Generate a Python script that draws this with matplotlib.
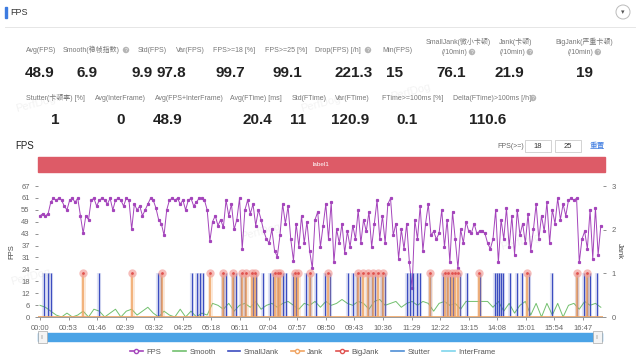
import matplotlib
matplotlib.use("Agg")
import matplotlib.pyplot as plt
from matplotlib.patches import Rectangle, Ellipse
from matplotlib.lines import Line2D
import numpy as np

plt.rcParams['font.family'] = ['Liberation Sans', 'Noto Sans CJK SC', 'DejaVu Sans']

# ---- data ----
# summary numbers: (label, value)
row1_labels = ["Avg(FPS)", "Smooth(稳帧指数)", "Std(FPS)", "Var(FPS)", "FPS>=18 [%]", "FPS>=25 [%]",
               "Drop(FPS) [/h]", "Min(FPS)", "SmallJank(微小卡顿)\n(/10min)", "Jank(卡顿)\n(/10min)",
               "BigJank(严重卡顿)\n(/10min)"]
row1_values = ["48.9", "6.9", "9.9", "97.8", "99.7", "99.1", "221.3", "15", "76.1", "21.9", "19"]
row2_labels = ["Stutter(卡顿率) [%]", "Avg(InterFrame)", "Avg(FPS+InterFrame)", "Avg(FTime) [ms]",
               "Std(FTime)", "Var(FTime)", "FTime>=100ms [%]", "Delta(FTime)>100ms [/h]"]
row2_values = ["1", "0", "48.9", "20.4", "11", "120.9", "0.1", "110.6"]

# FPS sampled every 5 s
fps_step = 5
fps = [
    52, 53, 52, 53, 59, 61, 60, 61, 60, 57,
    55, 60, 61, 59, 61, 52, 43, 52, 50, 60,
    61, 57, 60, 61, 60, 58, 61, 55, 60, 61,
    60, 57, 61, 60, 45, 58, 55, 57, 52, 55,
    58, 61, 60, 56, 50, 48, 42, 55, 60, 61,
    60, 61, 58, 60, 55, 60, 61, 57, 59, 61,
    61, 60, 55, 39, 49, 52, 47, 50, 46, 60,
    52, 58, 45, 50, 61, 35, 55, 60, 53, 58,
    47, 55, 50, 44, 40, 38, 45, 34, 31, 42,
    58, 48, 57, 40, 29, 48, 36, 52, 38, 49,
    34, 25, 50, 54, 36, 47, 58, 40, 59, 28,
    45, 38, 48, 33, 44, 36, 47, 40, 55, 38,
    50, 44, 54, 36, 48, 60, 40, 52, 38, 58,
    61, 42, 48, 30, 45, 35, 48, 28, 15, 50,
    40, 57, 34, 48, 58, 42, 44, 40, 43, 55,
    36, 50, 28, 54, 40, 25, 45, 38, 49, 44,
    43, 48, 43, 44, 44, 43, 38, 35, 40, 55,
    28, 50, 40, 56, 36, 52, 32, 55, 42, 48,
    38, 53, 34, 45, 58, 40, 52, 44, 59, 38,
    55, 48, 61, 50, 58, 52, 60, 61, 60, 61,
    28, 40, 44, 35, 55, 30, 56, 32, 47,
]

# Smooth sampled every 10 s
smooth_step = 10
smooth = [
    6, 5, 3, 1, 0, 2, 0, 1, 3, 0,
    4, 3, 0, 2, 4, 0, 3, 4, 1, 3,
    5, 2, 0, 3, 1, 0, 4, 0, 3, 0,
    2, 1, 7, 6, 4, 7, 3, 6, 7, 5,
    8, 4, 6, 7, 5, 7, 8, 6, 4, 7,
    6, 8, 5, 8, 6, 7, 9, 7, 6, 8,
    7, 4, 8, 9, 6, 7, 8, 5, 7, 8,
    6, 8, 7, 3, 7, 8, 6, 7, 4, 8,
    8, 8, 8, 8, 5, 8, 3, 7, 2, 6,
    8, 1, 7, 0, 7, 1, 7, 0, 6, 7,
    4, 8, 6, 7, 5,
]

# event times in seconds
small_jank_t = [7, 15, 20, 109, 219, 224, 282, 291, 297, 302, 339, 345, 358, 364, 373, 380, 395,
                401, 414, 427, 432, 441, 451, 456, 469, 475, 493, 501, 512, 529, 538, 571, 580,
                588, 593, 608, 616, 621, 634, 640, 681, 686, 692, 699, 705, 723, 747, 755, 760,
                766, 779, 792, 816, 844, 848, 851, 855, 859, 872, 885, 894, 907, 950, 996, 1009,
                1014, 1020, 1033]
big_jank_t = [80, 171, 226, 315, 339, 358, 375, 382, 393, 399, 436, 441, 445, 473, 478, 501, 534,
              590, 599, 608, 618, 627, 636, 723, 751, 757, 764, 770, 775, 814, 903, 996, 1014]

tick_labels = ["00:00", "00:53", "01:46", "02:39", "03:32", "04:25", "05:18", "06:11", "07:04",
               "07:57", "08:50", "09:43", "10:36", "11:29", "12:22", "13:15", "14:08", "15:01",
               "15:54", "16:47"]
fps_ticks = ["0", "6", "12", "18", "24", "31", "37", "43", "49", "55", "61", "67"]
legend_names = ["FPS", "Smooth", "SmallJank", "Jank", "BigJank", "Stutter", "InterFrame"]

c_fps = "#a444bb"
c_smooth = "#72c06e"
c_small = "#3c4dc0"
c_jank = "#f0a462"
c_big = "#e0524f"
c_stutter = "#4f8fd6"
c_inter = "#7fd6ec"

W, H = 640, 361
fig = plt.figure(figsize=(6.4, 3.61), dpi=100)


def fx(x):
    return x / W


def fy(y):
    return 1 - y / H


def qmark(x, y):
    fig.text(fx(x), fy(y), "?", fontsize=3.5, color="white", ha="center", va="center",
             bbox=dict(boxstyle="circle,pad=0.15", fc="#b5b5b5", ec="none"))


# ---- header ----
fig.add_artist(Rectangle((fx(5), fy(18)), 1.5 / W, 11 / H, color="#3d7be0"))
fig.text(fx(10), fy(12.5), "FPS", fontsize=6.5, va="center", color="#333")
fig.add_artist(Ellipse((fx(623), fy(12)), 14 / W, 14 / H, fc="white", ec="#bbbbbb", lw=0.7))
fig.text(fx(623), fy(12), "▾", fontsize=5, ha="center", va="center", color="#555",
         family="DejaVu Sans")
fig.add_artist(Line2D([fx(5), fx(635)], [fy(27), fy(27)], color="#e6e6e6", lw=0.7))

# ---- summary stats ----
row1_lx = [26, 63, 138, 176, 213, 265, 315, 382, 419, 495, 550]
row1_vx = [39.5, 87.5, 142, 171, 230.5, 287.5, 353.5, 394.5, 451.5, 509.5, 584.5]
for lab, val, lx, vx in zip(row1_labels, row1_values, row1_lx, row1_vx):
    if "\n" in lab:
        top, bot = lab.split("\n")
        mid = lx + len(top) * 2.6
        fig.text(fx(mid), fy(41.5), top, fontsize=5, color="#777", ha="center", va="center")
        fig.text(fx(mid - 3), fy(52), bot, fontsize=5, color="#777", ha="center", va="center")
        qmark(mid + 14, 52)
    else:
        fig.text(fx(lx), fy(50), lab, fontsize=5, color="#777", va="center")
    fig.text(fx(vx), fy(73), val, fontsize=11, color="#222", ha="center", va="center",
             fontweight="bold")
qmark(126, 50)
qmark(368, 50)

row2_lx = [26, 95, 155, 230, 292, 335, 382, 453]
row2_vx = [55, 121, 168, 257, 298, 350, 407, 488]
for lab, val, lx, vx in zip(row2_labels, row2_values, row2_lx, row2_vx):
    fig.text(fx(lx), fy(98), lab, fontsize=5, color="#777", va="center")
    fig.text(fx(vx), fy(120), val, fontsize=11, color="#222", ha="center", va="center",
             fontweight="bold")
qmark(533, 98)

# faint watermarks
for wx, wy in [(15, 112), (300, 112), (390, 100), (10, 285), (240, 240), (500, 250)]:
    fig.text(fx(wx), fy(wy), "PerfDog", fontsize=8, color="#999", alpha=0.12, rotation=15)

# ---- chart header ----
fig.text(fx(15), fy(146), "FPS", fontsize=7, va="center", color="#222")
fig.text(fx(497), fy(146), "FPS(>=)", fontsize=5, va="center", color="#666")
for bx, txt in [(525, "18"), (555, "25")]:
    fig.add_artist(Rectangle((fx(bx), fy(152)), 26 / W, 12 / H, fc="white", ec="#cccccc", lw=0.6))
    fig.text(fx(bx + 13), fy(146), txt, fontsize=5.5, ha="center", va="center", color="#333")
fig.text(fx(590), fy(146), "重置", fontsize=5.5, va="center", color="#3d7be0")

fig.add_artist(Rectangle((fx(38), fy(172)), (605 - 38) / W, 15 / H, color="#dd5b67"))
fig.text(fx(321), fy(164.5), "label1", fontsize=4.5, ha="center", va="center", color="white")

# ---- main plot ----
ax = fig.add_axes([fx(38), fy(317), (603 - 38) / W, (317 - 186) / H])
ax2 = ax.twinx()

fps_t = np.arange(len(fps)) * fps_step
smooth_t = np.arange(len(smooth)) * smooth_step

ax.plot(fps_t, fps, color=c_fps, lw=0.7, marker="s", ms=1.3, zorder=5)
ax.plot(smooth_t, smooth, color=c_smooth, lw=0.7, zorder=3)

ymax = 67.3
ax.set_ylim(0, ymax)
ax.set_yticks(np.linspace(0, ymax, 12))
ax.set_yticklabels(fps_ticks)
ax.set_ylabel("FPS", fontsize=5.5, color="#444", labelpad=4)

xmin, xmax = -3.7, 1044
ax.set_xlim(xmin, xmax)
ax.set_xticks(np.arange(len(tick_labels)) * 53)
ax.set_xticklabels(tick_labels)

ax2.vlines(small_jank_t, 0, 1, color=c_small, lw=3, alpha=0.15)
ax2.vlines(small_jank_t, 0, 1, color=c_small, lw=0.9)
ax2.vlines(big_jank_t, 0, 1, color=c_jank, lw=3.5, alpha=0.25)
ax2.vlines(big_jank_t, 0, 1, color=c_jank, lw=1.1)
ax2.plot(big_jank_t, np.ones(len(big_jank_t)), "o", color="#f3a29d", ms=6, alpha=0.7, mec="none")
ax2.plot(big_jank_t, np.ones(len(big_jank_t)), "o", color=c_big, ms=2, mec="none")
ax2.axhline(0, color=c_jank, lw=1.2)
ax2.set_ylim(0, 3)
ax2.set_yticks([0, 1, 2, 3])
ax2.set_ylabel("Jank", fontsize=5.5, color="#444", rotation=270, labelpad=5)

for a in (ax, ax2):
    for s in ("top", "left", "right"):
        a.spines[s].set_visible(False)
    a.spines["bottom"].set_color("#999")
    a.spines["bottom"].set_linewidth(0.6)
    a.tick_params(labelsize=5.5, colors="#666", length=2.5, width=0.5)

# ---- data zoom slider ----
fig.add_artist(Rectangle((fx(38), fy(341)), (602 - 38) / W, 8 / H, color="#4aa3e6"))
for hx in (38, 593):
    fig.add_artist(Rectangle((fx(hx), fy(343)), 9 / W, 12 / H, fc="#f4f4f4", ec="#aaaaaa", lw=0.5))
    fig.text(fx(hx + 4.5), fy(337), "|||", fontsize=3, ha="center", va="center", color="#999")

# ---- legend ----
handles = [
    Line2D([], [], color=c_fps, marker="o", ms=3, mfc="white", lw=1.2),
    Line2D([], [], color=c_smooth, lw=1.2),
    Line2D([], [], color=c_small, lw=1.2),
    Line2D([], [], color=c_jank, marker="o", ms=3, mfc="white", lw=1.2),
    Line2D([], [], color=c_big, marker="o", ms=3, mfc="white", lw=1.2),
    Line2D([], [], color=c_stutter, lw=1.2),
    Line2D([], [], color=c_inter, lw=1.2),
]
fig.legend(handles, legend_names, loc="center", bbox_to_anchor=(fx(313), fy(352)), ncol=7,
           fontsize=5.5, frameon=False, handlelength=1.6, columnspacing=1.6, handletextpad=0.5,
           labelcolor="#555")

fig.savefig("out.png", dpi=100)
